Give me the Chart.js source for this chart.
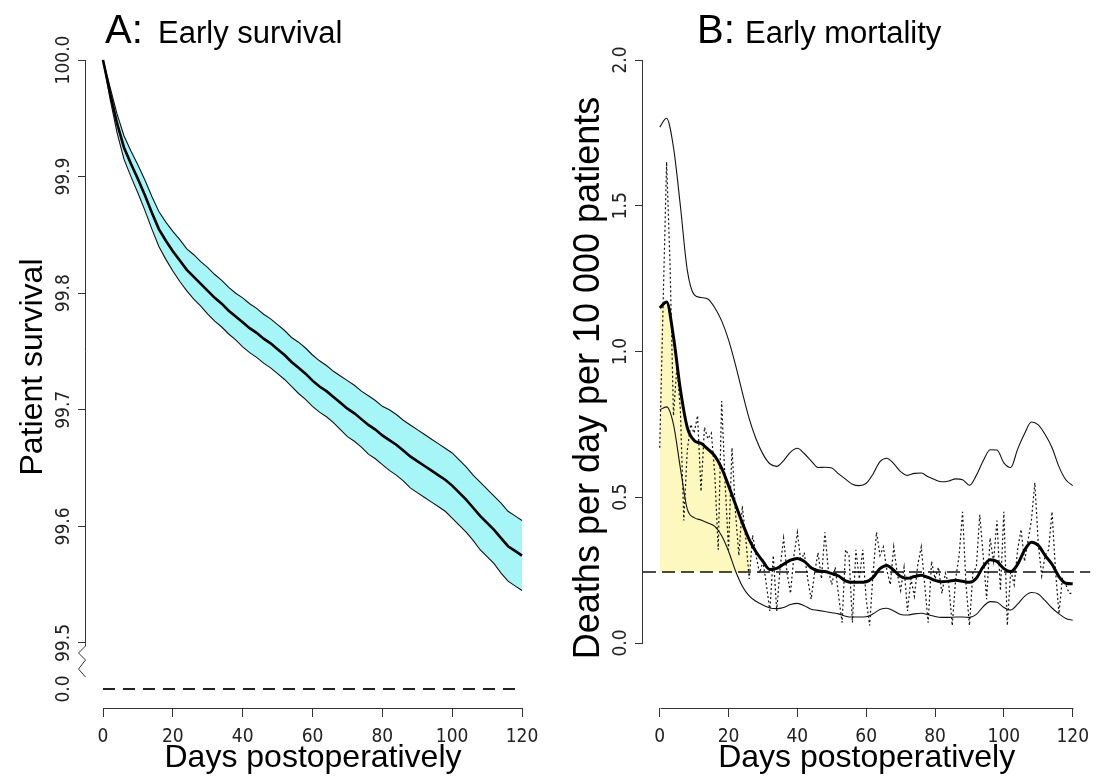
<!DOCTYPE html>
<html>
<head>
<meta charset="utf-8">
<script src="https://cdn.jsdelivr.net/npm/chart.js@4.4.1/dist/chart.umd.min.js"></script>
<style>
html,body{margin:0;padding:0;background:#fff;}
#wrap{position:relative;width:1098px;height:778px;overflow:hidden;background:#fff;}
canvas{position:absolute;top:0;}
#cA{left:0;}
#cB{left:549px;}
</style>
</head>
<body>
<div id="wrap">
<canvas id="cA" width="549" height="778"></canvas>
<canvas id="cB" width="549" height="778"></canvas>
</div>
<script>
// ---------------- DATA ----------------
// Panel A: Kaplan-Meier survival (%) with confidence band
const daysA = [0,2,4,6,8,10,12,14,16,18,20,22,24,26,28,30,32,34,36,38,40,42,44,46,48,50,52,54,56,58,60,62,64,66,68,70,72,74,76,78,80,82,84,86,88,90,92,94,96,98,100,102,104,106,108,110,112,114,116,118,120];
const survivalA = [100.000,99.972,99.946,99.925,99.911,99.898,99.884,99.869,99.855,99.845,99.836,99.828,99.820,99.814,99.808,99.802,99.796,99.791,99.785,99.780,99.775,99.770,99.766,99.761,99.757,99.752,99.747,99.741,99.736,99.731,99.725,99.720,99.716,99.711,99.706,99.701,99.697,99.692,99.687,99.683,99.678,99.674,99.670,99.665,99.660,99.656,99.652,99.648,99.644,99.640,99.635,99.629,99.623,99.616,99.609,99.603,99.597,99.590,99.583,99.579,99.575];
const upperA = [100.000,99.977,99.954,99.935,99.922,99.910,99.897,99.883,99.870,99.861,99.853,99.846,99.838,99.833,99.827,99.822,99.816,99.811,99.805,99.800,99.796,99.791,99.787,99.782,99.778,99.773,99.768,99.762,99.758,99.753,99.747,99.742,99.738,99.733,99.729,99.725,99.721,99.716,99.712,99.708,99.703,99.700,99.696,99.691,99.687,99.683,99.679,99.675,99.671,99.667,99.663,99.657,99.651,99.644,99.638,99.632,99.626,99.620,99.613,99.609,99.605];
const lowerA = [100.000,99.967,99.938,99.915,99.900,99.886,99.871,99.855,99.840,99.829,99.819,99.810,99.802,99.795,99.789,99.782,99.776,99.771,99.765,99.760,99.754,99.749,99.745,99.740,99.736,99.731,99.726,99.720,99.714,99.709,99.703,99.698,99.694,99.689,99.683,99.677,99.673,99.668,99.662,99.658,99.653,99.648,99.644,99.639,99.633,99.629,99.625,99.621,99.617,99.613,99.607,99.601,99.595,99.588,99.580,99.574,99.568,99.560,99.553,99.549,99.545];
const zeroLevelA = 99.4606;   // broken-axis position that carries the "0.0" label
const yTickValuesA = [99.5, 99.6, 99.7, 99.8, 99.9, 100.0];

// Panel B: deaths per day per 10 000 patients
const daysB = [0,2,4,6,8,10,12,14,16,18,20,22,24,26,28,30,32,34,36,38,40,42,44,46,48,50,52,54,56,58,60,62,64,66,68,70,72,74,76,78,80,82,84,86,88,90,92,94,96,98,100,102,104,106,108,110,112,114,116,118,120];
const smoothB = [1.15,1.17,1.05,0.87,0.74,0.695,0.685,0.665,0.642,0.600,0.540,0.476,0.412,0.355,0.312,0.280,0.252,0.256,0.270,0.284,0.290,0.280,0.258,0.248,0.245,0.238,0.230,0.213,0.208,0.208,0.210,0.225,0.255,0.266,0.250,0.228,0.222,0.228,0.232,0.225,0.215,0.210,0.212,0.215,0.212,0.208,0.222,0.262,0.286,0.280,0.255,0.245,0.270,0.318,0.346,0.335,0.300,0.270,0.228,0.205,0.203];
const upperB = [1.77,1.80,1.70,1.50,1.28,1.195,1.185,1.180,1.150,1.105,1.040,0.955,0.860,0.770,0.700,0.648,0.615,0.606,0.626,0.655,0.668,0.650,0.625,0.602,0.603,0.600,0.580,0.562,0.545,0.540,0.548,0.580,0.622,0.634,0.615,0.588,0.575,0.582,0.583,0.570,0.560,0.553,0.556,0.563,0.560,0.541,0.575,0.625,0.663,0.662,0.618,0.602,0.665,0.718,0.758,0.748,0.715,0.670,0.605,0.560,0.540];
const lowerB = [0.80,0.81,0.75,0.60,0.46,0.43,0.422,0.412,0.400,0.368,0.315,0.248,0.195,0.162,0.143,0.130,0.120,0.118,0.122,0.132,0.136,0.128,0.116,0.112,0.108,0.104,0.100,0.092,0.089,0.089,0.090,0.100,0.115,0.119,0.110,0.098,0.096,0.100,0.102,0.097,0.091,0.088,0.088,0.089,0.089,0.088,0.098,0.125,0.142,0.140,0.122,0.113,0.133,0.160,0.173,0.168,0.145,0.120,0.100,0.084,0.078];
const rawDaysB = [0,1,2,3,4,5,6,7,8,9,10,11,12,13,14,15,16,17,18,19,20,21,22,23,24,25,26,27,28,29,30,31,32,33,34,35,36,37,38,39,40,41,42,43,44,45,46,47,48,49,50,51,52,53,54,55,56,57,58,59,60,61,62,63,64,65,66,67,68,69,70,71,72,73,74,75,76,77,78,79,80,81,82,83,84,85,86,87,88,89,90,91,92,93,94,95,96,97,98,99,100,101,102,103,104,105,106,107,108,109,110,111,112,113,114,115,116,117,118,119,120];
const rawB = [0.67,1.17,1.65,1.30,0.78,0.95,0.80,0.42,0.66,0.75,0.72,0.78,0.52,0.74,0.70,0.72,0.58,0.32,0.83,0.55,0.32,0.67,0.45,0.30,0.47,0.36,0.22,0.37,0.30,0.24,0.28,0.20,0.11,0.30,0.11,0.26,0.36,0.24,0.17,0.30,0.38,0.28,0.31,0.22,0.15,0.24,0.31,0.22,0.38,0.25,0.20,0.26,0.16,0.07,0.32,0.30,0.07,0.32,0.22,0.32,0.15,0.06,0.24,0.38,0.30,0.33,0.25,0.20,0.33,0.24,0.18,0.26,0.11,0.22,0.16,0.27,0.33,0.20,0.07,0.28,0.22,0.26,0.17,0.24,0.20,0.06,0.22,0.30,0.45,0.20,0.06,0.24,0.26,0.44,0.30,0.15,0.36,0.28,0.42,0.18,0.45,0.06,0.25,0.20,0.32,0.39,0.28,0.35,0.42,0.55,0.34,0.23,0.30,0.32,0.45,0.25,0.10,0.22,0.20,0.17,0.17];
const overallRateB = 0.244;
const shadeEndDayB = 26;
const yTickValuesB = [0, 0.5, 1.0, 1.5, 2.0];

const xTickValues = [0, 20, 40, 60, 80, 100, 120];

// ---------------- STYLE / LAYOUT ----------------
const FAMILY = "'Liberation Sans', Arial, Helvetica, sans-serif";
const TICK_FONT = {family: "'Liberation Sans Narrow','Arial Narrow','DejaVu Sans Condensed','Liberation Sans',sans-serif", size: 19};
const AXIS_COLOR = '#333';

const pts = (xs, ys) => xs.map((x, i) => ({x: x, y: ys[i]}));

const rStyle = {
  id: 'rStyle',
  afterDraw(chart, _args, o) {
    const {ctx, chartArea} = chart;
    const xs = chart.scales.x, ys = chart.scales.y;
    ctx.save();
    ctx.strokeStyle = AXIS_COLOR;
    ctx.lineWidth = 1;
    const yb = Math.round(chartArea.bottom) + 0.5;
    ctx.beginPath();
    ctx.moveTo(Math.round(xs.getPixelForValue(xTickValues[0])) + 0.5, yb);
    ctx.lineTo(Math.round(xs.getPixelForValue(xTickValues[xTickValues.length - 1])) + 0.5, yb);
    ctx.stroke();
    const xl = Math.round(chartArea.left) - 0.5;
    const y0 = ys.getPixelForValue(o.yFrom), y1 = ys.getPixelForValue(o.yTo);
    ctx.beginPath();
    ctx.moveTo(xl, Math.round(y1));
    ctx.lineTo(xl, Math.round(y0) + 0.5);
    if (o.zigzag) {
      ctx.lineTo(xl, y0 + 3);
      ctx.lineTo(xl - 7, y0 + 10);
      ctx.lineTo(xl, y0 + 17);
      ctx.lineTo(xl - 7, y0 + 26);
      ctx.lineTo(xl, y0 + 34);
    }
    ctx.stroke();
    ctx.fillStyle = '#000';
    ctx.textBaseline = 'alphabetic';
    ctx.textAlign = 'left';
    o.title.forEach(p => {
      ctx.font = p.size + 'px ' + FAMILY;
      ctx.fillText(p.text, p.x, o.titleBaseline);
    });
    ctx.restore();
  }
};

function xScaleOpts(min, max) {
  return {
    type: 'linear', min: min, max: max,
    afterBuildTicks: s => { s.ticks = xTickValues.map(v => ({value: v})); },
    afterFit: s => { s.height = 70; },
    border: {display: false},
    grid: {display: true, drawOnChartArea: false, drawTicks: true, tickLength: 9, color: AXIS_COLOR, lineWidth: 1},
    ticks: {font: TICK_FONT, color: '#222', padding: 9, maxRotation: 0, minRotation: 0, autoSkip: false},
    title: {display: true, text: 'Days postoperatively', font: {family: FAMILY, size: 32}, color: '#000', padding: {top: 0, bottom: 1}}
  };
}

const common = {
  responsive: false,
  animation: false,
  events: [],
  plugins: {legend: {display: false}, tooltip: {enabled: false}, title: {display: false}},
  elements: {point: {radius: 0}}
};

// ---------------- PANEL A ----------------
new Chart(document.getElementById('cA'), {
  type: 'line',
  data: {
    datasets: [
      {data: pts(daysA, upperA), borderColor: '#111', borderWidth: 1.1, fill: '+1', backgroundColor: '#a6f6f8', pointRadius: 0, order: 3},
      {data: pts(daysA, lowerA), borderColor: '#111', borderWidth: 1.1, fill: false, pointRadius: 0, order: 2},
      {data: pts(daysA, survivalA), borderColor: '#000', borderWidth: 2.6, fill: false, pointRadius: 0, order: 1},
      {data: [{x: xTickValues[0], y: zeroLevelA}, {x: xTickValues[xTickValues.length - 1], y: zeroLevelA}], borderColor: '#222', borderWidth: 2, borderDash: [12, 8], fill: false, pointRadius: 0, order: 1}
    ]
  },
  options: Object.assign({}, common, {
    layout: {padding: {left: 0, top: 26, right: 9, bottom: 0}},
    scales: {
      x: xScaleOpts(-4.869, 125.155),
      y: {
        type: 'linear', min: 99.44425, max: 100.02916,
        afterBuildTicks: s => { s.ticks = [zeroLevelA].concat(yTickValuesA).map(v => ({value: v})); },
        afterFit: s => { s.width = 86; },
        border: {display: false},
        grid: {display: true, drawOnChartArea: false, drawTicks: true, tickLength: 8, lineWidth: 1, color: AXIS_COLOR,
               tickColor: c => (c.tick && c.tick.value === zeroLevelA) ? 'rgba(0,0,0,0)' : AXIS_COLOR},
        ticks: {font: TICK_FONT, color: '#222', minRotation: 90, maxRotation: 90, crossAlign: 'center', padding: -11, autoSkip: false,
                callback: v => (v === zeroLevelA ? '0.0' : Number(v).toFixed(1))},
        title: {display: true, text: 'Patient survival', font: {family: FAMILY, size: 32}, color: '#000', padding: {top: 14, bottom: 0}}
      }
    },
    plugins: Object.assign({}, common.plugins, {
      rStyle: {yFrom: yTickValuesA[0], yTo: yTickValuesA[yTickValuesA.length - 1], zigzag: true, titleBaseline: 43,
               title: [{text: 'A:', size: 40, x: 105}, {text: 'Early survival', size: 31, x: 158}]}
    })
  }),
  plugins: [rStyle]
});

// ---------------- PANEL B ----------------
const xMinB = -4.857, xMaxB = 125.143;
const shadeIdx = daysB.filter(d => d <= shadeEndDayB).length;
new Chart(document.getElementById('cB'), {
  type: 'line',
  data: {
    datasets: [
      {data: pts(daysB.slice(0, shadeIdx), smoothB.slice(0, shadeIdx)), cubicInterpolationMode: 'monotone', borderWidth: 0, borderColor: 'rgba(0,0,0,0)',
       fill: {value: overallRateB}, backgroundColor: '#fdf8be', pointRadius: 0, order: 10},
      {data: pts(daysB, upperB), cubicInterpolationMode: 'monotone', borderColor: '#111', borderWidth: 1.1, fill: false, pointRadius: 0, order: 3},
      {data: pts(daysB, lowerB), cubicInterpolationMode: 'monotone', borderColor: '#111', borderWidth: 1.1, fill: false, pointRadius: 0, order: 3},
      {data: pts(rawDaysB, rawB), borderColor: '#111', borderWidth: 1.2, borderDash: [2, 2.5], fill: false, pointRadius: 0, order: 4},
      {data: [{x: xMinB, y: overallRateB}, {x: xMaxB, y: overallRateB}], borderColor: '#111', borderWidth: 1.5, borderDash: [13, 6], fill: false, pointRadius: 0, order: 2},
      {data: pts(daysB, smoothB), cubicInterpolationMode: 'monotone', borderColor: '#000', borderWidth: 3, fill: false, pointRadius: 0, order: 1}
    ]
  },
  options: Object.assign({}, common, {
    layout: {padding: {left: 0, top: 48, right: 0, bottom: 0}},
    scales: {
      x: xScaleOpts(xMinB, xMaxB),
      y: {
        type: 'linear', min: -0.22298, max: 2.04117,
        afterBuildTicks: s => { s.ticks = yTickValuesB.map(v => ({value: v})); },
        afterFit: s => { s.width = 94; },
        border: {display: false},
        grid: {display: true, drawOnChartArea: false, drawTicks: true, tickLength: 8, lineWidth: 1, color: AXIS_COLOR},
        ticks: {font: TICK_FONT, color: '#222', minRotation: 90, maxRotation: 90, crossAlign: 'center', padding: 0, autoSkip: false,
                callback: v => Number(v).toFixed(1)},
        title: {display: true, text: 'Deaths per day per 10 000 patients', font: {family: FAMILY, size: 36}, color: '#000', padding: {top: 18, bottom: 0}}
      }
    },
    plugins: Object.assign({}, common.plugins, {
      rStyle: {yFrom: yTickValuesB[0], yTo: yTickValuesB[yTickValuesB.length - 1], zigzag: false, titleBaseline: 43,
               title: [{text: 'B:', size: 40, x: 148}, {text: 'Early mortality', size: 31, x: 196}]}
    })
  }),
  plugins: [rStyle]
});
</script>
</body>
</html>
